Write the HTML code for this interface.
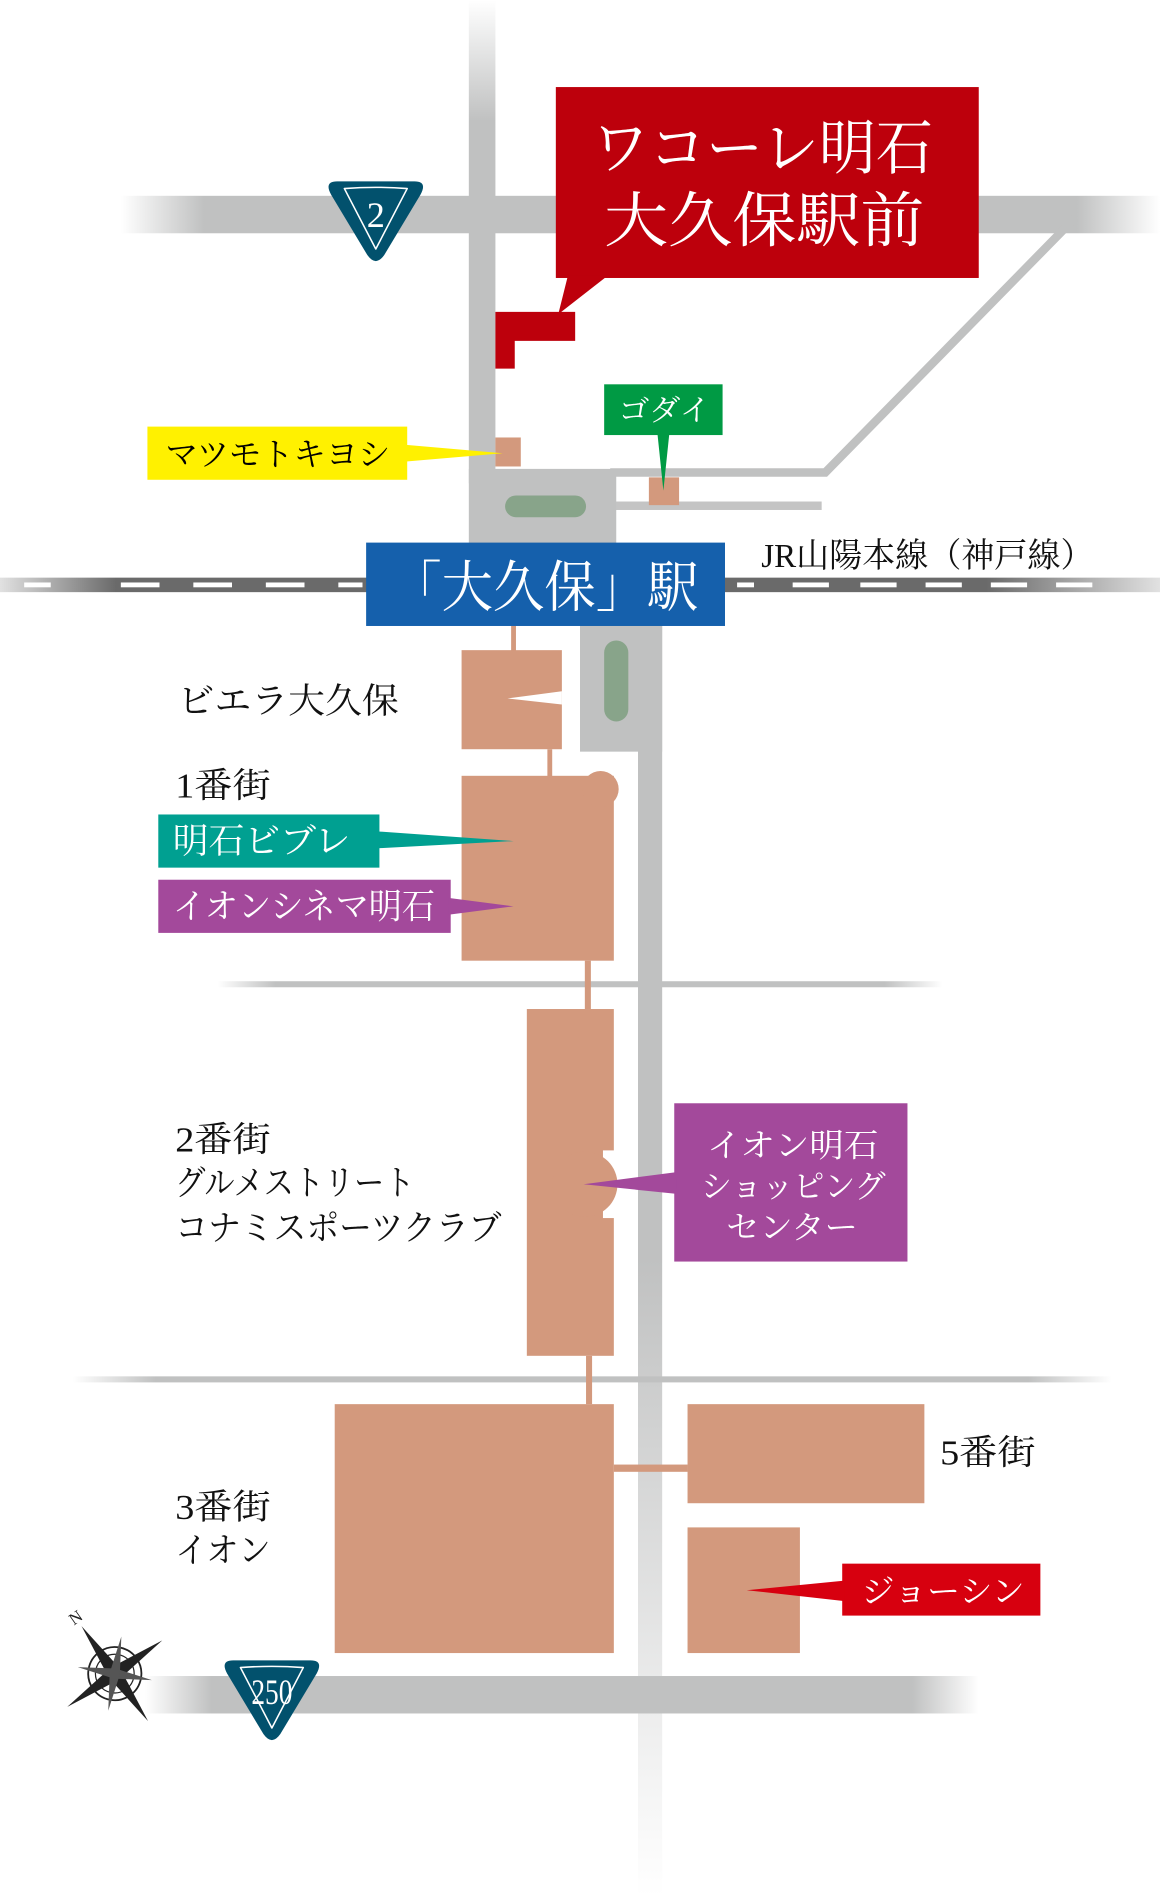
<!DOCTYPE html>
<html><head><meta charset="utf-8"><style>
html,body{margin:0;padding:0;background:#fff;}
svg{display:block}
text{font-family:"Liberation Serif","Noto Serif CJK SC","Noto Serif CJK JP",serif;}
</style></head><body>
<svg width="1160" height="1896" viewBox="0 0 960 1569" xmlns="http://www.w3.org/2000/svg">
<defs>
<linearGradient id="hr" x1="0" x2="1"><stop offset="0" stop-color="#c0c1c1" stop-opacity="0"/><stop offset="0.08" stop-color="#c0c1c1"/><stop offset="0.92" stop-color="#c0c1c1"/><stop offset="1" stop-color="#c0c1c1" stop-opacity="0"/></linearGradient>
<linearGradient id="vt" x1="0" y1="0" x2="0" y2="1"><stop offset="0" stop-color="#c0c1c1" stop-opacity="0"/><stop offset="0.25" stop-color="#c0c1c1"/></linearGradient>
<linearGradient id="vb" x1="0" y1="0" x2="0" y2="1"><stop offset="0.5" stop-color="#c0c1c1"/><stop offset="1" stop-color="#c0c1c1" stop-opacity="0"/></linearGradient>
<linearGradient id="rail" x1="0" x2="1"><stop offset="0" stop-color="#6a6a6a" stop-opacity="0.2"/><stop offset="0.1" stop-color="#6a6a6a"/><stop offset="0.85" stop-color="#6a6a6a"/><stop offset="1" stop-color="#6a6a6a" stop-opacity="0.2"/></linearGradient>
</defs>
<!-- roads -->
<rect x="100" y="162" width="860" height="31" fill="url(#hr)"/>
<rect x="388" y="0" width="22" height="400" fill="url(#vt)"/>
<polyline points="890,180 683,391 505,391" fill="none" stroke="#c0c1c1" stroke-width="7"/>
<rect x="505" y="415" width="175" height="7" fill="#c4c4c4"/>
<rect x="388" y="388" width="122" height="64" fill="#c0c1c1"/>
<rect x="418" y="410" width="67" height="18" rx="9" fill="#88a48a"/>
<rect x="180" y="812" width="600" height="5" fill="url(#hr)"/>
<rect x="60" y="1139" width="860" height="5" fill="url(#hr)"/>
<rect x="120" y="1387" width="690" height="31" fill="url(#hr)"/>
<rect x="480" y="515" width="68" height="107" fill="#c0c1c1"/>
<rect x="528" y="515" width="20" height="1054" fill="url(#vb)"/>
<rect x="500" y="530" width="20" height="67" rx="10" fill="#88a48a"/>
<!-- rail -->
<rect x="0" y="478" width="960" height="12" fill="url(#rail)"/>
<g fill="#fff">
<rect x="20" y="482" width="22" height="4"/><rect x="100" y="482" width="32" height="4"/><rect x="160" y="482" width="32" height="4"/><rect x="220" y="482" width="32" height="4"/><rect x="280" y="482" width="20" height="4"/>
<rect x="610" y="482" width="14" height="4"/><rect x="656" y="482" width="30" height="4"/><rect x="712" y="482" width="30" height="4"/><rect x="766" y="482" width="30" height="4"/><rect x="820" y="482" width="30" height="4"/><rect x="874" y="482" width="30" height="4"/>
</g>
<!-- buildings -->
<g fill="#d3997d">
<rect x="410" y="362" width="21" height="24"/>
<rect x="537" y="395" width="25" height="23"/>
<rect x="423" y="518" width="4" height="22"/>
<rect x="382" y="538" width="83" height="82"/>
<rect x="453" y="620" width="4" height="24"/>
<rect x="382" y="642" width="126" height="153"/>
<circle cx="497" cy="653" r="15"/>
<rect x="484" y="795" width="5" height="40"/>
<rect x="436" y="835" width="72" height="287"/>
<rect x="485" y="1122" width="5" height="40"/>
<rect x="277" y="1162" width="231" height="206"/>
<rect x="508" y="1212" width="61" height="6"/>
<rect x="569" y="1162" width="196" height="82"/>
<rect x="569" y="1264" width="93" height="104"/>
</g>
<polygon points="465,572 420,578 465,583" fill="#fff"/>
<rect x="499" y="952" width="11" height="56" fill="#fff"/>
<circle cx="484" cy="980" r="27" fill="#d3997d"/>
<!-- red building -->
<path d="M410 258 H476 V282 H426 V305 H410 Z" fill="#bd000c"/>
<!-- callouts -->
<rect x="460" y="72" width="350" height="158" fill="#bd000c"/>
<polygon points="470,228 503,228 462,260" fill="#bd000c"/>
<text x="490" y="140" font-size="50" fill="#fff" textLength="282" lengthAdjust="spacingAndGlyphs">ワコーレ明石</text>
<text x="500" y="200" font-size="50" fill="#fff" textLength="265" lengthAdjust="spacingAndGlyphs">大久保駅前</text>
<rect x="122" y="353" width="215" height="44" fill="#fff100"/>
<polygon points="335,368 335,382 416,375" fill="#fff100"/>
<text x="137" y="385" font-size="27" fill="#000" textLength="186" lengthAdjust="spacingAndGlyphs">マツモトキヨシ</text>
<rect x="500" y="318" width="98" height="42" fill="#009a44"/>
<polygon points="544,358 554,358 549,406" fill="#009a44"/>
<text x="512" y="348" font-size="25" fill="#fff" textLength="76" lengthAdjust="spacingAndGlyphs">ゴダイ</text>
<rect x="303" y="449" width="297" height="69" fill="#1560ac"/>
<text x="323" y="502" font-size="46" fill="#fff" textLength="255" lengthAdjust="spacingAndGlyphs">「大久保」駅</text>
<text x="630" y="469" font-size="28" fill="#111" textLength="275" lengthAdjust="spacingAndGlyphs">JR山陽本線（神戸線）</text>
<rect x="131" y="674" width="183" height="44" fill="#00a091"/>
<polygon points="312,688 312,702 425,696" fill="#00a091"/>
<text x="143" y="706" font-size="29" fill="#fff" textLength="147" lengthAdjust="spacingAndGlyphs">明石ビブレ</text>
<rect x="131" y="728" width="242" height="44" fill="#a3499b"/>
<polygon points="371,743 371,757 425,750" fill="#a3499b"/>
<text x="143" y="760" font-size="29" fill="#fff" textLength="217" lengthAdjust="spacingAndGlyphs">イオンシネマ明石</text>
<rect x="558" y="913" width="193" height="131" fill="#a3499b"/>
<polygon points="560,970 560,988 483,980" fill="#a3499b"/>
<g font-size="27" fill="#fff">
<text x="585" y="957" textLength="142" lengthAdjust="spacingAndGlyphs">イオン明石</text>
<text x="580" y="991" textLength="153" lengthAdjust="spacingAndGlyphs">ショッピング</text>
<text x="601" y="1025" textLength="109" lengthAdjust="spacingAndGlyphs">センター</text></g>
<rect x="697" y="1294" width="164" height="43" fill="#d7000f"/>
<polygon points="699,1308 699,1325 618,1316" fill="#d7000f"/>
<text x="713" y="1326" font-size="27" fill="#fff" textLength="135" lengthAdjust="spacingAndGlyphs">ジョーシン</text>
<!-- labels -->
<g font-size="29" fill="#111">
<text x="147" y="590" textLength="183" lengthAdjust="spacingAndGlyphs">ビエラ大久保</text>
<text x="145" y="660" textLength="79" lengthAdjust="spacingAndGlyphs">1番街</text>
<text x="145" y="953" textLength="79" lengthAdjust="spacingAndGlyphs">2番街</text>
<text x="145" y="989" textLength="198" lengthAdjust="spacingAndGlyphs">グルメストリート</text>
<text x="145" y="1026" textLength="270" lengthAdjust="spacingAndGlyphs">コナミスポーツクラブ</text>
<text x="145" y="1257" textLength="79" lengthAdjust="spacingAndGlyphs">3番街</text>
<text x="145" y="1293" textLength="79" lengthAdjust="spacingAndGlyphs">イオン</text>
<text x="778" y="1212" textLength="79" lengthAdjust="spacingAndGlyphs">5番街</text>
</g>
<!-- shields -->
<g transform="translate(311,183)">
<path d="M-32,-33 Q-43,-33 -37,-22 L-7,28 Q0,38 7,28 L37,-22 Q43,-33 32,-33 Z" fill="#02516d"/>
<path d="M-26,-27 Q0,-29 26,-27 L0,23 Z" fill="none" stroke="#fff" stroke-width="1.3" stroke-linejoin="round"/>
<text x="0" y="5" font-size="30" fill="#fff" text-anchor="middle">2</text>
</g>
<g transform="translate(225,1407)">
<path d="M-32,-33 Q-43,-33 -37,-22 L-7,28 Q0,38 7,28 L37,-22 Q43,-33 32,-33 Z" fill="#02516d"/>
<path d="M-26,-27 Q0,-29 26,-27 L0,23 Z" fill="none" stroke="#fff" stroke-width="1.3" stroke-linejoin="round"/>
<text x="-17" y="3" font-size="30" fill="#fff" textLength="34" lengthAdjust="spacingAndGlyphs">250</text>
</g>
<!-- compass -->
<g transform="translate(95,1385) rotate(-35)">
<circle r="22" fill="none" stroke="#222" stroke-width="1.5"/>
<circle r="16" fill="none" stroke="#222" stroke-width="1"/>
<polygon points="0,-48 6,0 0,48 -6,0" fill="#222"/>
<polygon points="-48,0 0,-6 48,0 0,6" fill="#222"/>
<polygon points="-22,-22 3,-3 22,22 -3,3" fill="#555"/>
<polygon points="22,-22 3,3 -22,22 -3,-3" fill="#555"/>
<text x="-5" y="-52" font-size="14" fill="#222">N</text>
</g>
</svg>
</body></html>
